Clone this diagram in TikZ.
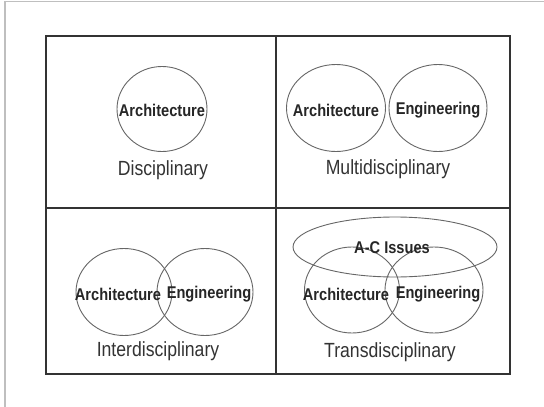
\documentclass[tikz,border=0pt]{standalone}
\usepackage{graphicx}
\usepackage{fontspec}
\setmainfont{Liberation Sans}
\usetikzlibrary{shapes.geometric}
\newcommand{\narrow}[1]{\scalebox{0.86}[1]{#1}}
\tikzset{
  frameline/.style={draw=black!25, line width=1.2pt},
  gridline/.style={draw=black!80, line width=1.6pt},
  field/.style={ellipse, draw=black!60, line width=0.9pt, inner sep=0pt},
  fieldlabel/.style={font=\bfseries\fontsize{17}{17}\selectfont, text=black!85, inner sep=0pt},
  modelabel/.style={font=\fontsize{20.5}{20.5}\selectfont, text=black!80, inner sep=0pt}
}
\begin{document}
\begin{tikzpicture}[x=1pt,y=-1pt]
  \useasboundingbox (0,0) rectangle (544,407);
  \fill[white] (0,0) rectangle (544,407);
  % page edge
  \coordinate (pl) at (5,407);
  \coordinate (pc) at (5,1.5);
  \coordinate (pr) at (544,1.5);
  \draw[frameline] (pl) -- (pc) -- (pr);

  % four quadrants
  \draw[gridline] (46,36) rectangle (510,374);
  \coordinate (vt) at (276,36);
  \coordinate (vb) at (276,374);
  \coordinate (hl) at (46,208);
  \coordinate (hr) at (510,208);
  \draw[gridline] (vt) -- (vb);
  \draw[gridline] (hl) -- (hr);

  % Disciplinary
  \node[field, minimum width=90pt, minimum height=85pt] (d1) at (162,109) {};
  \node[fieldlabel] (d1t) at (162,110) {\narrow{Architecture}};
  \node[modelabel] (dl) at (163,170) {\narrow{Disciplinary}};

  % Multidisciplinary
  \node[field, minimum width=99pt, minimum height=87pt] (m1) at (336,108) {};
  \node[field, minimum width=98pt, minimum height=87pt] (m2) at (438,108) {};
  \node[fieldlabel] (m1t) at (336,110) {\narrow{Architecture}};
  \node[fieldlabel] (m2t) at (438,110) {\narrow{Engineering}};
  \node[modelabel] (ml) at (388,169) {\narrow{Multidisciplinary}};

  % Interdisciplinary
  \node[field, minimum width=96pt, minimum height=87pt] (i1) at (124,292) {};
  \node[field, minimum width=96pt, minimum height=87pt] (i2) at (205,292) {};
  \node[fieldlabel] (i1t) at (118,294) {\narrow{Architecture}};
  \node[fieldlabel] (i2t) at (209,294) {\narrow{Engineering}};
  \node[modelabel] (il) at (158,351) {\narrow{Interdisciplinary}};

  % Transdisciplinary
  \node[field, minimum width=204pt, minimum height=60pt] (t0) at (395,247) {};
  \node[field, minimum width=95pt, minimum height=86pt] (t1) at (352,290) {};
  \node[field, minimum width=98pt, minimum height=86pt] (t2) at (434,290) {};
  \node[fieldlabel] (t0t) at (392,248) {\narrow{A-C Issues}};
  \node[fieldlabel] (t1t) at (346,294) {\narrow{Architecture}};
  \node[fieldlabel] (t2t) at (438,294) {\narrow{Engineering}};
  \node[modelabel] (tl) at (390,352) {\narrow{Transdisciplinary}};
\end{tikzpicture}
\end{document}
